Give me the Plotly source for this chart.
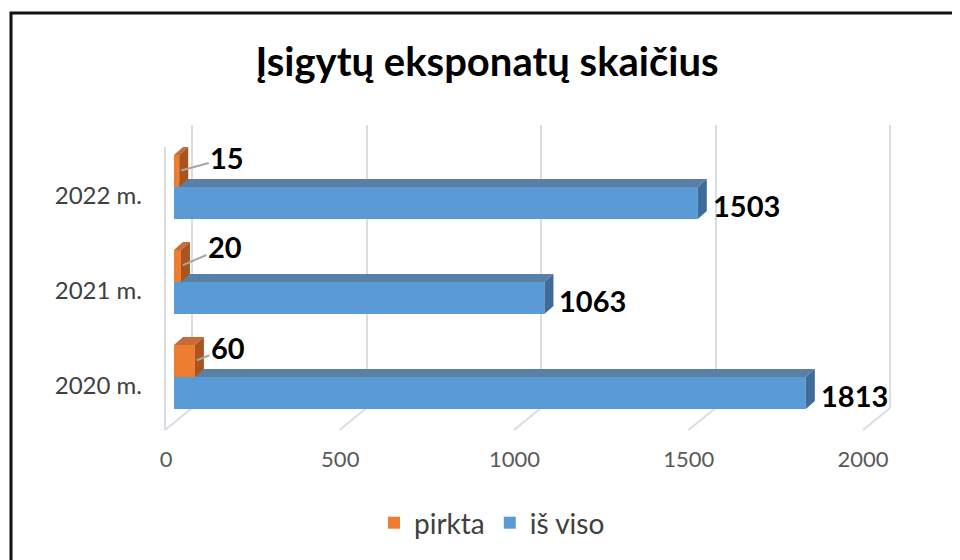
import plotly.graph_objects as go

# ---------------- data ----------------
categories = ["2020 m.", "2021 m.", "2022 m."]
pirkta = [60, 20, 15]
is_viso = [1813, 1063, 1503]
x_ticks = [0, 500, 1000, 1500, 2000]
series_names = ["pirkta", "iš viso"]
title_text = "Įsigytų eksponatų skaičius"

# ---------------- styling / geometry (pixels in the 960x560 window) ----------------
PAGE_OFF = 8                       # default body margin of the html page
W, H = 960 - PAGE_OFF, 560 - PAGE_OFF
FONT = "Lato, Calibri, 'Open Sans', sans-serif"
BAR_X0, BAR_X1 = 174, 871          # front plane of bars: value 0 .. 2000
BAR_YTOP, BAR_YBOT = 139.5, 424.5
WALL_X0, WALL_X1 = 192, 890        # back wall
WALL_YTOP, WALL_YBOT = 125, 408
WALL_PAD = 4                       # px of slack so edge gridlines are drawn
FLOOR_DX, FLOOR_DY = 27, 22        # back wall -> front edge offset
BAR_W = 0.337                      # bar thickness in category units
DEPTH_DX, DEPTH_DY = 9, 8          # bar depth in px
XMAX = 2000

C_BLUE, C_BLUE_TOP, C_BLUE_SIDE = "#5b9bd5", "#5a80a8", "#3f6b99"
C_ORA, C_ORA_TOP, C_ORA_SIDE = "#ed7d31", "#c96b38", "#a9541f"
GRID = "#dadde3"


def fx(px):
    return (px - PAGE_OFF) / W


def fy(py):
    return 1 - (py - PAGE_OFF) / H


ux = (BAR_X1 - BAR_X0) / XMAX                      # px per value unit
uy = (BAR_YBOT - BAR_YTOP) / len(categories)       # px per category unit
ddx = DEPTH_DX / ux
ddy = DEPTH_DY / uy
pos = list(range(len(categories)))

wall_ux = (WALL_X1 - WALL_X0) / XMAX
wall_pad_units = WALL_PAD / wall_ux


def polys(list_of_polys):
    xs, ys = [], []
    for p in list_of_polys:
        for (a, b) in p + [p[0]]:
            xs.append(a); ys.append(b)
        xs.append(None); ys.append(None)
    return xs, ys


fig = go.Figure()

# empty trace for back-wall subplot
fig.add_trace(go.Scatter(x=[None], y=[None], xaxis="x", yaxis="y",
                         showlegend=False, hoverinfo="skip"))

# blue front faces
fig.add_trace(go.Bar(y=pos, x=is_viso, orientation="h", base=0, width=BAR_W, offset=-BAR_W,
                     marker=dict(color=C_BLUE, line=dict(width=0)), name=series_names[1],
                     legendrank=2, xaxis="x2", yaxis="y2"))
# orange front faces
fig.add_trace(go.Bar(y=pos, x=pirkta, orientation="h", base=0, width=BAR_W, offset=0,
                     marker=dict(color=C_ORA, line=dict(width=0)), name=series_names[0],
                     legendrank=1, xaxis="x2", yaxis="y2"))

# blue top faces (visible part, right of orange bar) and side faces
bt, bs, ot, osd = [], [], [], []
for i, v, o in zip(pos, is_viso, pirkta):
    top = i
    bt.append([(o, top), (v, top), (v + ddx, top + ddy), (max(o, ddx), top + ddy),
               (o, top + ddy * min(o, ddx) / ddx)])
    bs.append([(v, i - BAR_W), (v, i), (v + ddx, i + ddy), (v + ddx, i - BAR_W + ddy)])
    ot.append([(0, i + BAR_W), (o, i + BAR_W), (o + ddx, i + BAR_W + ddy), (ddx, i + BAR_W + ddy)])
    osd.append([(o, i), (o, i + BAR_W), (o + ddx, i + BAR_W + ddy), (o + ddx, i + ddy)])

for pl, col in [(bt, C_BLUE_TOP), (bs, C_BLUE_SIDE), (ot, C_ORA_TOP), (osd, C_ORA_SIDE)]:
    xs, ys = polys(pl)
    fig.add_trace(go.Scatter(x=xs, y=ys, mode="lines", fill="toself", fillcolor=col,
                             line=dict(width=0, color=col), showlegend=False,
                             hoverinfo="skip", xaxis="x2", yaxis="y2"))

# ---------------- labels ----------------
annotations = []
for i, v in zip(pos, is_viso):
    annotations.append(dict(x=v, y=i - BAR_W / 2, xref="x2", yref="y2", text=str(v),
                            xanchor="left", yanchor="middle", showarrow=False,
                            xshift=DEPTH_DX + 4, yshift=-2,
                            font=dict(family=FONT, size=29, color="#000000", weight="bold")))
lead_ax = [33, 44, 48]
lead_ay = [-13, -19, -13]
for i, o, ax_, ay_ in zip(pos, pirkta, lead_ax, lead_ay):
    annotations.append(dict(x=o, y=i + BAR_W / 2, xref="x2", yref="y2", text=str(o),
                            showarrow=True, arrowhead=0, arrowwidth=2, arrowcolor="#a6a6a6",
                            ax=ax_, ay=ay_, standoff=2,
                            font=dict(family=FONT, size=29, color="#000000", weight="bold")))

# ---------------- floor / side-wall edges (from the tick values) ----------------
shapes = []
for t in x_ticks:
    bx = WALL_X0 + t * wall_ux
    shapes.append(dict(type="line", xref="paper", yref="paper",
                       x0=fx(bx), y0=fy(WALL_YBOT), x1=fx(bx - FLOOR_DX), y1=fy(WALL_YBOT + FLOOR_DY),
                       line=dict(color=GRID, width=2), layer="below"))
shapes.append(dict(type="line", xref="paper", yref="paper",
                   x0=fx(WALL_X0 - FLOOR_DX), y0=fy(WALL_YBOT + FLOOR_DY),
                   x1=fx(WALL_X0 - FLOOR_DX), y1=fy(WALL_YTOP + FLOOR_DY),
                   line=dict(color=GRID, width=2), layer="below"))
# outer frame
shapes.append(dict(type="rect", xref="paper", yref="paper", x0=fx(11), y0=-0.2, x1=1.2, y1=fy(13),
                   line=dict(color="#111111", width=3), fillcolor="rgba(0,0,0,0)"))

fig.update_layout(
    template="none",
    width=W, height=H,
    margin=dict(l=0, r=0, t=0, b=0, pad=0),
    paper_bgcolor="white", plot_bgcolor="rgba(0,0,0,0)",
    barmode="overlay",
    font=dict(family=FONT, color="#595959"),
    title=dict(text=title_text, x=fx(487), xanchor="center", xref="paper",
               y=fy(62), yanchor="middle", yref="paper", automargin=False,
               font=dict(family=FONT, size=40, color="#000000", weight="bold")),
    xaxis=dict(domain=[fx(WALL_X0 - WALL_PAD), fx(WALL_X1 + WALL_PAD)],
               range=[-wall_pad_units, XMAX + wall_pad_units], anchor="y", automargin=False,
               tickvals=x_ticks, showticklabels=False, ticks="", showgrid=True,
               gridcolor=GRID, gridwidth=2, zeroline=False, showline=False),
    yaxis=dict(domain=[fy(WALL_YBOT), fy(WALL_YTOP)], range=[0, 1], anchor="x",
               automargin=False, showgrid=False, zeroline=False, showticklabels=False,
               ticks="", showline=False),
    xaxis2=dict(domain=[fx(BAR_X0), fx(BAR_X1)], range=[0, XMAX], anchor="y2", automargin=False,
                tickvals=x_ticks, ticks="", showgrid=False, zeroline=False, showline=False,
                tickfont=dict(family=FONT, size=22, color="#595959"),
                ticklabelshift=-8, ticklabelstandoff=19),
    yaxis2=dict(domain=[fy(BAR_YBOT), fy(BAR_YTOP)], range=[-0.5, len(categories) - 0.5],
                anchor="x2", automargin=False, tickvals=pos, ticktext=categories, ticks="",
                showgrid=False, zeroline=False, showline=False,
                tickfont=dict(family=FONT, size=24, color="#404040"),
                ticklabelshift=9, ticklabelstandoff=31),
    legend=dict(orientation="h", x=fx(492), xanchor="center", y=fy(523), yanchor="middle",
                font=dict(family=FONT, size=28, color="#404040"), bgcolor="rgba(0,0,0,0)",
                traceorder="normal"),
    annotations=annotations,
    shapes=shapes,
    showlegend=True,
)

fig.write_html("out.html")
